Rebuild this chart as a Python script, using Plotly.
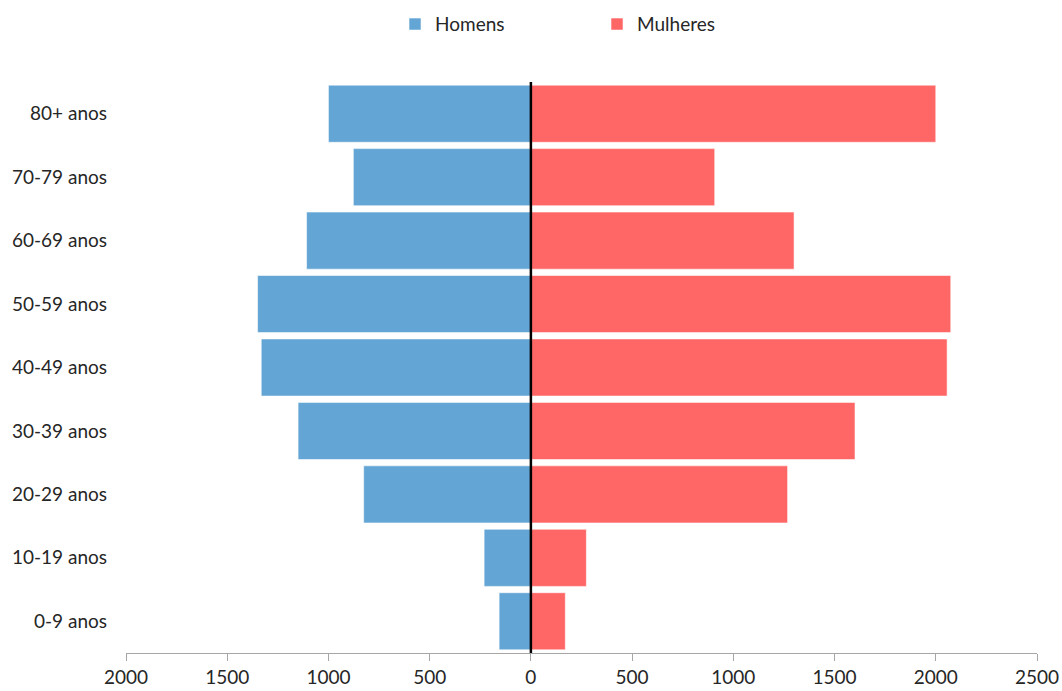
import plotly.graph_objects as go

categories = ["0-9 anos", "10-19 anos", "20-29 anos", "30-39 anos", "40-49 anos",
              "50-59 anos", "60-69 anos", "70-79 anos", "80+ anos"]
homens = [157, 231, 826, 1150, 1332, 1350, 1108, 877, 1000]
mulheres = [170, 274, 1268, 1601, 2056, 2074, 1300, 908, 2000]
tick_values = [-2000, -1500, -1000, -500, 0, 500, 1000, 1500, 2000, 2500]
tick_labels = [str(abs(v)) for v in tick_values]

BLUE = "#63a5d5"
RED = "#ff6666"
FONT = "Lato"
TXT = "#262626"

fig = go.Figure()
fig.add_trace(go.Bar(
    y=categories, x=[-v for v in homens], name="Homens", orientation="h",
    marker=dict(color=BLUE, line=dict(color="rgba(255,255,255,0.55)", width=1)),
    customdata=homens, hovertemplate="%{y}: %{customdata}<extra>Homens</extra>",
))
fig.add_trace(go.Bar(
    y=categories, x=mulheres, name="Mulheres", orientation="h",
    marker=dict(color=RED, line=dict(color="rgba(255,255,255,0.55)", width=1)),
    hovertemplate="%{y}: %{x}<extra>Mulheres</extra>",
))

# vertical zero line drawn above the bars
fig.add_shape(type="line", xref="x", yref="paper", x0=0, x1=0, y0=0, y1=1,
              line=dict(color="black", width=2.5), layer="above")

fig.update_layout(
    width=1062, height=691,
    margin=dict(l=126, r=25, t=82, b=38, autoexpand=False),
    barmode="relative", bargap=0.1,
    plot_bgcolor="white", paper_bgcolor="white",
    font=dict(family=FONT, size=19, color=TXT),
    showlegend=True,
    legend=dict(
        orientation="h", x=0.2953, xanchor="left",
        yref="container", y=0.965, yanchor="middle",
        entrywidth=157, entrywidthmode="pixels",
        font=dict(family=FONT, size=19, color=TXT),
        traceorder="normal",
    ),
    xaxis=dict(
        range=[-2000, 2500], tickvals=tick_values, ticktext=tick_labels,
        showgrid=False, zeroline=False, automargin=False,
        showline=True, linecolor="#a6a6a6", linewidth=1.3,
        ticks="outside", ticklen=7, tickcolor="#a6a6a6", tickwidth=1.3,
        fixedrange=True,
    ),
    yaxis=dict(
        type="category", categoryorder="array", categoryarray=categories,
        showgrid=False, zeroline=False, showline=False, ticks="",
        automargin=False, ticklabelstandoff=18, fixedrange=True,
    ),
)

# remove the browser's default 8px page margin so the figure fills the window
fig.write_html(
    "out.html",
    config={"displayModeBar": False},
    post_script="document.body.style.margin='0';document.body.style.overflow='hidden';",
)
